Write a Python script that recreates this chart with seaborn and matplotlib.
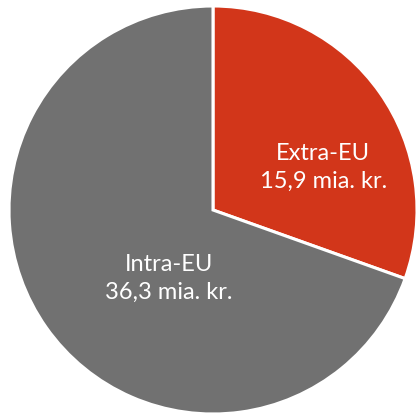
import matplotlib
matplotlib.use("Agg")
import matplotlib.pyplot as plt
import seaborn as sns

# Trade split, billions of DKK
categories = ["Extra-EU", "Intra-EU"]
values = [15.9, 36.3]
value_labels = ["15,9 mia. kr.", "36,3 mia. kr."]
colors = ["#D2361A", "#717171"]

sns.set_style("white")
plt.rcParams["font.family"] = ["Lato", "DejaVu Sans"]

fig = plt.figure(figsize=(4.18, 4.14), dpi=100)
ax = fig.add_axes([0, 0, 1, 1])

ax.pie(values, colors=colors, startangle=90, counterclock=False, radius=1.0,
       wedgeprops=dict(edgecolor="white", linewidth=2.2))

# window so the pie sits slightly cropped on the right and bottom
px = 204.0
cx, cy = 213.0, 211.0
ax.set_xlim(-cx / px, (418 - cx) / px)
ax.set_ylim(-(414 - cy) / px, cy / px)
ax.set_aspect("auto")
ax.axis("off")

label_pos = [(0.54, 0.215), (-0.215, -0.33)]
for (x, y), cat, lab in zip(label_pos, categories, value_labels):
    ax.text(x, y, f"{cat}\n{lab}", ha="center", va="center", color="white",
            fontsize=17, linespacing=1.38)

fig.savefig("out.png", dpi=100)
